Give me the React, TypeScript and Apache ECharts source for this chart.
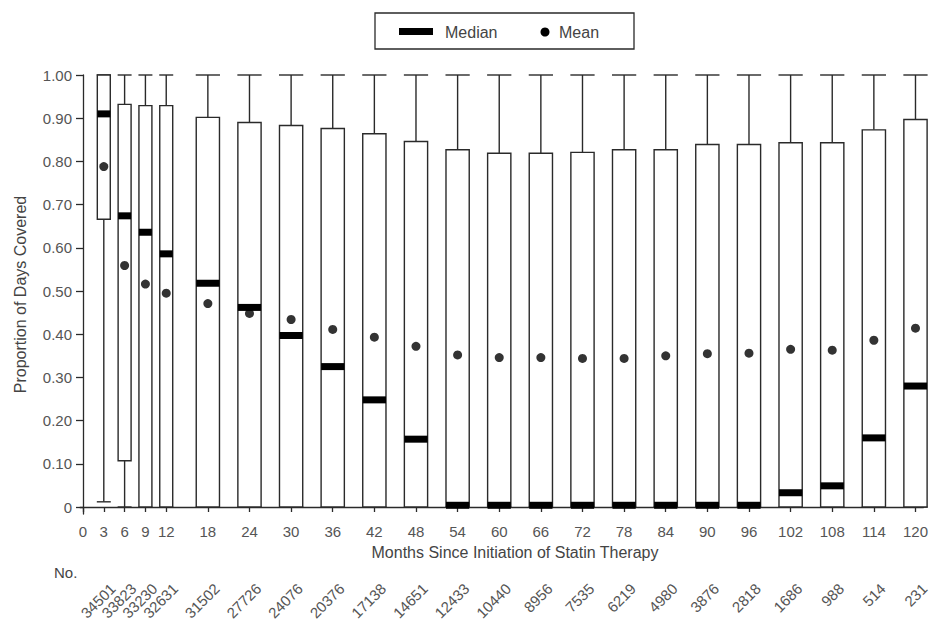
import React, { useEffect, useRef } from "react";
import * as echarts from "echarts";

const months = [3, 6, 9, 12, 18, 24, 30, 36, 42, 48, 54, 60, 66, 72, 78, 84, 90, 96, 102, 108, 114, 120];
const xTickValues = [0, ...months];
const counts = [34501, 33823, 33230, 32631, 31502, 27726, 24076, 20376, 17138, 14651, 12433, 10440, 8956, 7535, 6219, 4980, 3876, 2818, 1686, 988, 514, 231];
const whiskerHigh = [1, 1, 1, 1, 1, 1, 1, 1, 1, 1, 1, 1, 1, 1, 1, 1, 1, 1, 1, 1, 1, 1];
const q3 = [1.0, 0.932, 0.929, 0.929, 0.902, 0.89, 0.883, 0.876, 0.864, 0.846, 0.827, 0.819, 0.819, 0.821, 0.827, 0.827, 0.839, 0.839, 0.843, 0.843, 0.873, 0.897];
const medianVals = [0.91, 0.674, 0.636, 0.586, 0.518, 0.462, 0.397, 0.325, 0.248, 0.157, 0.004, 0.004, 0.004, 0.004, 0.004, 0.004, 0.004, 0.004, 0.033, 0.049, 0.16, 0.28];
const q1 = [0.666, 0.107, 0, 0, 0, 0, 0, 0, 0, 0, 0, 0, 0, 0, 0, 0, 0, 0, 0, 0, 0, 0];
const whiskerLow = [0.012, 0, 0, 0, 0, 0, 0, 0, 0, 0, 0, 0, 0, 0, 0, 0, 0, 0, 0, 0, 0, 0];
const meanVals = [0.788, 0.559, 0.516, 0.495, 0.471, 0.448, 0.434, 0.411, 0.393, 0.372, 0.352, 0.346, 0.346, 0.344, 0.344, 0.35, 0.355, 0.356, 0.365, 0.363, 0.386, 0.414];
const yTickValues = [0, 0.1, 0.2, 0.3, 0.4, 0.5, 0.6, 0.7, 0.8, 0.9, 1.0];

const FONT = "Liberation Sans, Arial, Helvetica, sans-serif";
const LINE = "#2a2a2a";
const TEXT = "#555";
const X_MIN = -0.43;
const X_MAX = 121.15;
const Y_MIN = -0.0162;

export default function App() {
  const ref = useRef<HTMLDivElement>(null);
  useEffect(() => {
    if (!ref.current) return;
    const chart = echarts.init(ref.current, null, { renderer: "svg" });
    const boxData = months.map((m, i) => [m, whiskerLow[i], q1[i], medianVals[i], q3[i], whiskerHigh[i]]);
    const meanData = months.map((m, i) => [m, meanVals[i]]);
    const countData = months.map((m, i) => [m, counts[i]]);
    const lineStyle = { stroke: LINE, lineWidth: 1.4 };
    const option: any = {
      animation: false,
      grid: { left: 80, right: 6, top: 75, bottom: 112, containLabel: false },
      xAxis: {
        type: "value",
        min: X_MIN,
        max: X_MAX,
        axisLine: { show: true, lineStyle: { color: LINE, width: 1.3 } },
        axisTick: { show: true, customValues: xTickValues, length: 5, lineStyle: { color: LINE, width: 1.3 } },
        axisLabel: {
          customValues: xTickValues,
          showMinLabel: true,
          showMaxLabel: true,
          fontSize: 15,
          color: TEXT,
          margin: 10,
          fontFamily: FONT,
        },
        splitLine: { show: false },
      },
      yAxis: {
        type: "value",
        min: Y_MIN,
        max: 1,
        axisLine: { show: true, lineStyle: { color: LINE, width: 1.3 } },
        axisTick: { show: true, customValues: yTickValues, length: 7, lineStyle: { color: LINE, width: 1.3 } },
        axisLabel: {
          customValues: yTickValues,
          showMinLabel: true,
          showMaxLabel: true,
          fontSize: 15,
          color: TEXT,
          margin: 8,
          fontFamily: FONT,
          formatter: (v: number) => (v === 0 ? "0" : v.toFixed(2)),
        },
        splitLine: { show: false },
        name: "Proportion of Days Covered",
        nameLocation: "middle",
        nameGap: 52,
        nameTextStyle: { fontSize: 16, color: "#444", fontFamily: FONT },
      },
      series: [
        {
          type: "custom",
          name: "Box",
          clip: false,
          encode: { x: 0, y: [1, 2, 3, 4, 5] },
          data: boxData,
          renderItem: (params: any, api: any) => {
            const x = api.value(0);
            const lo = api.value(1);
            const b1 = api.value(2);
            const med = api.value(3);
            const b3 = api.value(4);
            const hi = api.value(5);
            const wMonths = x <= 12 ? 1.87 : 3.35;
            const w = api.size([wMonths, 0])[0];
            const pHi = api.coord([x, hi]);
            const pQ3 = api.coord([x, b3]);
            const pMed = api.coord([x, med]);
            const pQ1 = api.coord([x, b1]);
            const pLo = api.coord([x, lo]);
            const cx = pHi[0];
            const left = cx - w / 2;
            const capW = w + 1;
            return {
              type: "group",
              children: [
                { type: "line", shape: { x1: cx, y1: pHi[1], x2: cx, y2: pQ3[1] }, style: lineStyle },
                { type: "line", shape: { x1: cx - capW / 2, y1: pHi[1], x2: cx + capW / 2, y2: pHi[1] }, style: lineStyle },
                { type: "line", shape: { x1: cx, y1: pQ1[1], x2: cx, y2: pLo[1] }, style: lineStyle },
                { type: "line", shape: { x1: cx - capW / 2, y1: pLo[1], x2: cx + capW / 2, y2: pLo[1] }, style: lineStyle },
                {
                  type: "rect",
                  shape: { x: left, y: pQ3[1], width: w, height: pQ1[1] - pQ3[1] },
                  style: { fill: "#fff", stroke: LINE, lineWidth: 1.4 },
                },
                {
                  type: "rect",
                  shape: { x: left, y: pMed[1] - 3.5, width: w, height: 7 },
                  style: { fill: "#000" },
                },
              ],
            };
          },
          z: 2,
        },
        {
          type: "scatter",
          name: "Mean",
          data: meanData,
          symbol: "circle",
          symbolSize: 9,
          itemStyle: { color: "#000" },
          clip: false,
          z: 3,
        },
        {
          type: "custom",
          name: "No.",
          clip: false,
          silent: true,
          encode: { x: 0, y: 1 },
          data: countData,
          renderItem: (params: any, api: any) => {
            const p = api.coord([api.value(0), Y_MIN]);
            return {
              type: "text",
              x: p[0] + 9,
              y: p[1] + 72,
              rotation: Math.PI / 4,
              style: {
                text: String(api.value(1)),
                fontSize: 15,
                fill: TEXT,
                fontFamily: FONT,
                align: "right",
                verticalAlign: "middle",
              },
            };
          },
        },
      ],
      graphic: [
        {
          type: "text",
          x: 515,
          y: 552,
          style: {
            text: "Months Since Initiation of Statin Therapy",
            fontSize: 16,
            fill: "#444",
            fontFamily: FONT,
            align: "center",
            verticalAlign: "middle",
          },
        },
        {
          type: "text",
          x: 54,
          y: 572,
          style: { text: "No.", fontSize: 15, fill: "#444", fontFamily: FONT, align: "left", verticalAlign: "middle" },
        },
        {
          type: "rect",
          shape: { x: 375, y: 13, width: 259, height: 36 },
          style: { fill: "#fff", stroke: LINE, lineWidth: 1.3 },
        },
        { type: "rect", shape: { x: 399, y: 28, width: 34, height: 7 }, style: { fill: "#000" } },
        {
          type: "text",
          x: 445,
          y: 32,
          style: { text: "Median", fontSize: 16, fill: "#444", fontFamily: FONT, align: "left", verticalAlign: "middle" },
        },
        { type: "circle", shape: { cx: 545, cy: 32, r: 4.5 }, style: { fill: "#000" } },
        {
          type: "text",
          x: 559,
          y: 32,
          style: { text: "Mean", fontSize: 16, fill: "#444", fontFamily: FONT, align: "left", verticalAlign: "middle" },
        },
      ],
    };
    chart.setOption(option);
    return () => chart.dispose();
  }, []);
  return <div ref={ref} style={{ position: "absolute", left: 0, top: 0, width: 931, height: 626 }} />;
}
